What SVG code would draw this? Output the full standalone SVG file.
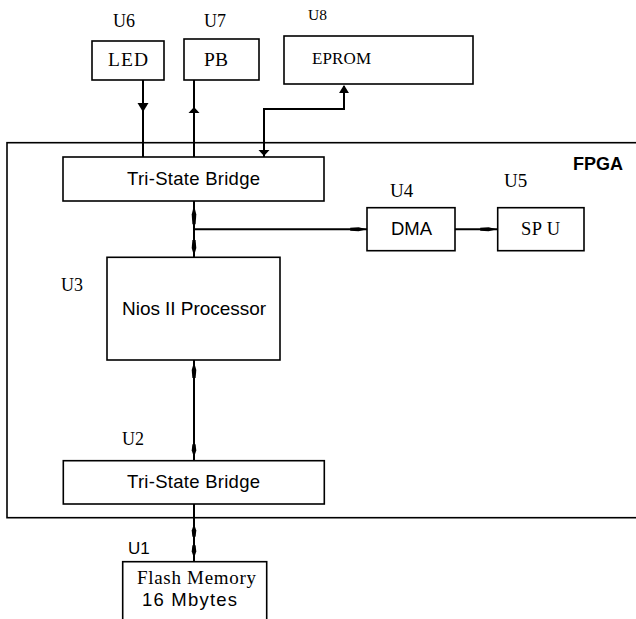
<svg xmlns="http://www.w3.org/2000/svg" width="636" height="619" viewBox="0 0 636 619">
<style>
.box{fill:#fff;stroke:#000;stroke-width:1.6}
.fpga{fill:none;stroke:#000;stroke-width:1.6}
.ln{fill:none;stroke:#000;stroke-width:2}
.sans{font-family:"Liberation Sans",Arial,sans-serif;fill:#000}
.serif{font-family:"Liberation Serif","Times New Roman",serif;fill:#000}
.ah{fill:#000}
</style>
<defs>
<path id="tri" d="M-5.5,-9 L5.5,-9 L0,0 Z"/>
<path id="tris" d="M-5.5,-6 L5.5,-6 L0,0 Z"/>
<path id="slim" d="M0,0 L-2.3,-8 L-1.6,-16 L1.6,-16 L2.3,-8 Z"/>
</defs>
<rect width="636" height="619" fill="#fff"/>

<g id="fpga">
<rect class="fpga" x="7" y="142.7" width="640" height="375"/>
<text class="sans" x="573" y="170" font-size="18" font-weight="bold">FPGA</text>
</g>

<g id="connectors">
<line class="ln" x1="143" y1="80" x2="143" y2="157"/>
<line class="ln" x1="194" y1="80" x2="194" y2="157"/>
<polyline class="ln" points="264,157 264,109 344,109 344,86"/>
<line class="ln" x1="194" y1="201" x2="194" y2="257"/>
<line class="ln" x1="194" y1="229.3" x2="367" y2="229.3" stroke-width="1.6"/>
<line class="ln" x1="455" y1="229.3" x2="497" y2="229.3" stroke-width="1.6"/>
<line class="ln" x1="194" y1="360" x2="194" y2="461"/>
<line class="ln" x1="194" y1="504" x2="194" y2="562"/>
<use href="#tri" class="ah" transform="translate(143,112)"/>
<use href="#tris" class="ah" transform="translate(194,107) rotate(180)"/>
<use href="#tri" class="ah" transform="translate(344,85) rotate(180) scale(0.9,0.9)"/>
<use href="#tris" class="ah" transform="translate(264,156)"/>
<use href="#slim" class="ah" transform="translate(194,205) rotate(180) scale(1,1.2)"/>
<use href="#slim" class="ah" transform="translate(194,256)"/>
<use href="#slim" class="ah" transform="translate(194,362) rotate(180)"/>
<use href="#slim" class="ah" transform="translate(194,457) scale(1,0.8)"/>
<use href="#slim" class="ah" transform="translate(194,524) rotate(180) scale(1,0.8)"/>
<use href="#slim" class="ah" transform="translate(194,558) scale(1,0.8)"/>
<use href="#slim" class="ah" transform="translate(367,229.3) rotate(-90) scale(0.9,1.05)"/>
<use href="#slim" class="ah" transform="translate(497,229.3) rotate(-90) scale(0.9,1.05)"/>
</g>

<g id="u6">
<rect class="box" x="92" y="41" width="72" height="39"/>
<text class="serif" x="113" y="27" font-size="18">U6</text>
<text class="serif" x="108" y="66" font-size="19.5" textLength="40">LED</text>
</g>

<g id="u7">
<rect class="box" x="184" y="39" width="75" height="41"/>
<text class="serif" x="204" y="27" font-size="18">U7</text>
<text class="serif" x="204" y="66" font-size="19.5" textLength="24">PB</text>
</g>

<g id="u8">
<rect class="box" x="284" y="36" width="189" height="48"/>
<text class="serif" x="308" y="20" font-size="15.5">U8</text>
<text class="serif" x="312" y="64" font-size="17" textLength="59">EPROM</text>
</g>

<g id="bridge-top">
<rect class="box" x="63" y="157" width="261" height="44"/>
<text class="sans" x="127" y="185" font-size="18.5" textLength="133">Tri-State Bridge</text>
</g>

<g id="u4">
<rect class="box" x="367" y="207.7" width="88" height="43"/>
<text class="serif" x="390" y="196.7" font-size="19">U4</text>
<text class="sans" x="391" y="235" font-size="18.5" textLength="41">DMA</text>
</g>

<g id="u5">
<rect class="box" x="497.7" y="207.7" width="86.3" height="43"/>
<text class="serif" x="504" y="187" font-size="19">U5</text>
<text class="serif" x="521" y="235" font-size="18.5" textLength="39">SP U</text>
</g>

<g id="u3">
<rect class="box" x="107" y="257.3" width="173" height="102.7"/>
<text class="serif" x="61" y="290.7" font-size="18">U3</text>
<text class="sans" x="122" y="315" font-size="19" textLength="144">Nios II Processor</text>
</g>

<g id="u2">
<rect class="box" x="63.3" y="460.7" width="261" height="43.3"/>
<text class="serif" x="122" y="445" font-size="18">U2</text>
<text class="sans" x="127" y="488.3" font-size="18.5" textLength="133">Tri-State Bridge</text>
</g>

<g id="u1">
<rect class="box" x="122.7" y="561.7" width="144" height="62"/>
<text class="sans" x="128" y="554" font-size="17">U1</text>
<text class="serif" x="137" y="584" font-size="19" textLength="119">Flash Memory</text>
<text class="sans" x="142" y="606" font-size="18.5" textLength="95">16 Mbytes</text>
</g>
</svg>
